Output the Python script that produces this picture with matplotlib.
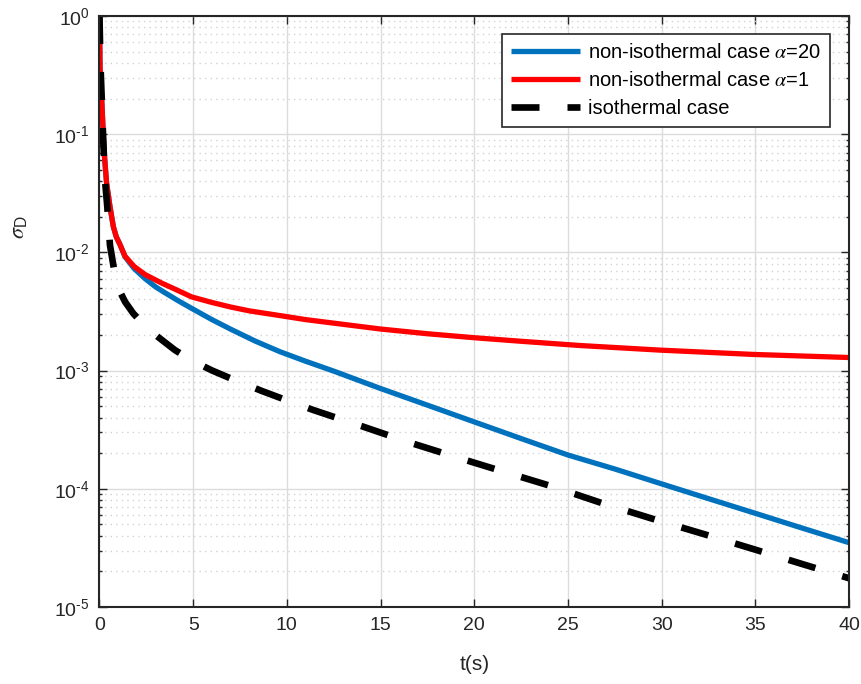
import matplotlib
matplotlib.use("Agg")
import matplotlib.pyplot as plt
import numpy as np
from matplotlib.ticker import LogLocator, MultipleLocator, NullFormatter, FuncFormatter

plt.rcParams['font.family'] = ['Liberation Sans', 'DejaVu Sans']
plt.rcParams['mathtext.fontset'] = 'custom'
plt.rcParams['mathtext.rm'] = 'Liberation Sans'
plt.rcParams['mathtext.it'] = 'STIXGeneral:italic'
plt.rcParams['mathtext.default'] = 'regular'

"""
Data read off the picture
"""

# non-isothermal, alpha = 20
t_a20 = [0, 0.027, 0.12, 0.24, 0.38, 0.56, 0.74, 0.9, 1.09, 1.36, 1.85, 2.43, 3.0,
         3.5, 4.2, 4.92, 6.0, 7.0, 8.3, 9.63, 11.0, 12.5, 14.97, 17.5, 20.0, 22.5,
         25.0, 27.5, 30.0, 32.5, 35.0, 37.5, 40]
s_a20 = [1, 0.37, 0.195, 0.074, 0.0385, 0.0244, 0.0165, 0.0135, 0.0117, 0.0092,
         0.0073, 0.006, 0.0051, 0.00455, 0.0039, 0.00336, 0.0027, 0.00224, 0.00178,
         0.001445, 0.0012, 0.00099, 0.000708, 0.00051, 0.000368, 0.000266, 0.000193,
         0.000147, 0.00011, 8.25e-05, 6.2e-05, 4.65e-05, 3.5e-05]

# non-isothermal, alpha = 1
t_a1 = [0, 0.027, 0.12, 0.24, 0.38, 0.56, 0.74, 0.9, 1.09, 1.36, 1.85, 2.43, 3.32,
        4.2, 4.92, 6.0, 7.0, 8.0, 9.63, 11.0, 12.5, 14.97, 17.5, 19.95, 22.5, 25.64,
        29.91, 34.89, 40]
s_a1 = [1, 0.37, 0.195, 0.074, 0.0385, 0.0244, 0.0165, 0.0135, 0.0117, 0.0093,
        0.0076, 0.0065, 0.0055, 0.00475, 0.0042, 0.00377, 0.00345, 0.0032, 0.00292,
        0.0027, 0.00252, 0.00225, 0.00205, 0.0019, 0.00177, 0.00163, 0.00149,
        0.00137, 0.00129]

# isothermal
t_iso = [0, 0.05, 0.12, 0.2, 0.3, 0.42, 0.56, 0.74, 0.92, 1.36, 1.8, 2.3, 2.87, 3.44,
         4.03, 5.0, 6.02, 7.3, 8.69, 10.0, 11.41, 14.08, 16.66, 19.24, 21.73, 24.22,
         26.88, 29.73, 32.4, 35.07, 37.65, 40]
s_iso = [1, 0.4, 0.2, 0.089, 0.04, 0.024, 0.0115, 0.0078, 0.0053, 0.00383, 0.00305,
         0.0025, 0.00207, 0.00176, 0.00149, 0.0012, 0.001, 0.00082, 0.00067, 0.00056,
         0.000464, 0.000335, 0.000243, 0.000181, 0.000137, 0.000104, 7.5e-05,
         5.44e-05, 4.07e-05, 3.03e-05, 2.27e-05, 1.75e-05]

labels = ['non-isothermal case $\\mathit{\\alpha}$=20',
          'non-isothermal case $\\mathit{\\alpha}$=1',
          'isothermal case']

fig = plt.figure(figsize=(8.62, 6.84), dpi=100)
ax = fig.add_axes([0.1154, 0.1126, 0.8696, 0.864])

ax.semilogy(t_a20, s_a20, color='#0072BD', lw=3.8, label=labels[0], solid_capstyle='butt')
ax.semilogy(t_a1, s_a1, color=(1, 0, 0), lw=3.8, label=labels[1], solid_capstyle='butt')
ax.semilogy(t_iso, s_iso, color='k', lw=4.8, ls=(0, (4.2, 4.2)), label=labels[2],
            dash_capstyle='butt')

ax.set_xlim(0, 40)
ax.set_ylim(1e-5, 1)
ax.xaxis.set_major_locator(MultipleLocator(5))
ax.yaxis.set_major_locator(LogLocator(base=10, numticks=10))
ax.yaxis.set_minor_locator(LogLocator(base=10, subs=np.arange(2, 10), numticks=10))
ax.yaxis.set_minor_formatter(NullFormatter())


def log_label(v, pos):
    e = int(round(np.log10(v)))
    if e < 0:
        return '10$^{\\text{-}%d}$' % (-e)
    return '10$^{%d}$' % e


ax.yaxis.set_major_formatter(FuncFormatter(log_label))

# grid, MATLAB look
ax.set_axisbelow(True)
ax.grid(True, which='major', axis='both', color='#dcdcdc', lw=1.0, ls='-')
ax.grid(True, which='minor', axis='y', color='#d2d2d2', lw=1.0, ls=(0, (1, 3)))

ax.tick_params(which='both', direction='in', top=True, right=True,
               colors='#262626', labelsize=14, pad=7)
ax.tick_params(which='major', length=5.5, width=1)
ax.tick_params(which='minor', length=2.5, width=1)
for sp in ax.spines.values():
    sp.set_color('#262626')
    sp.set_linewidth(1.5)

ax.set_xlabel('t(s)', fontsize=15, color='#262626')
ax.set_ylabel('$\\mathit{\\sigma}_{\\mathrm{D}}$', fontsize=16, color='#262626')
ax.xaxis.set_label_coords(0.5, -0.082)
ax.yaxis.set_label_coords(-0.093, 0.643)

leg = ax.legend(loc='upper right', bbox_to_anchor=(0.9747, 0.9695), borderaxespad=0,
                fontsize=14.5, handlelength=3.4, labelspacing=0.45, handletextpad=0.4,
                fancybox=False, framealpha=1, edgecolor='#262626', borderpad=0.45)
leg.get_frame().set_linewidth(1.2)

fig.savefig('out.png', dpi=100)
